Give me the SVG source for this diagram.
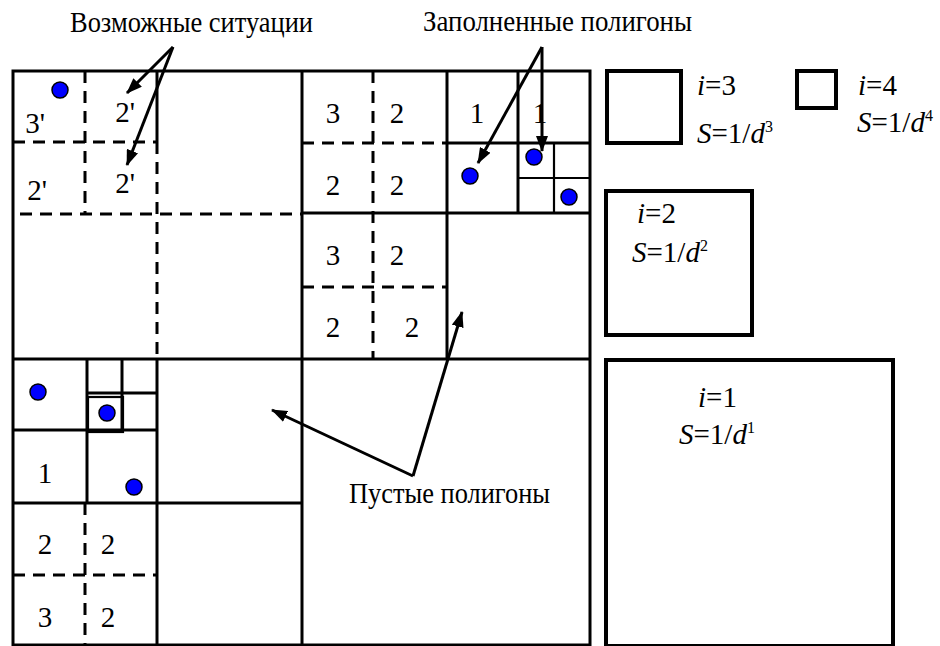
<svg xmlns="http://www.w3.org/2000/svg" width="940" height="646" viewBox="0 0 940 646">
<style>
text{font-family:Liberation Serif,Tinos,Noto Serif,DejaVu Serif,Times New Roman,Times,serif;font-size:29px;fill:#000}
.n{text-anchor:middle}
.t{font-size:30px}
.it{font-style:italic}
.sup{font-size:16px}
.s{stroke:#000;stroke-width:3;fill:none}
.thin{stroke:#000;stroke-width:2.2;fill:none}
.d{stroke:#000;stroke-width:3;fill:none;stroke-dasharray:12 8}
.leg{stroke:#000;stroke-width:4;fill:#fff}
.dot{fill:#0000ff;stroke:#000;stroke-width:1.5}
.arr{stroke:#000;stroke-width:3;fill:none;marker-end:url(#ah)}
</style>
<defs>
<marker id="ah" markerUnits="userSpaceOnUse" markerWidth="18" markerHeight="12" refX="15" refY="6" orient="auto">
<path d="M0,0 L16,6 L0,12 Z" fill="#000"/>
</marker>
</defs>
<rect width="940" height="646" fill="#fff"/>

<g id="grid">
<rect class="s" x="13" y="71" width="577" height="574"/>
<line class="s" x1="302" y1="71" x2="302" y2="645"/>
<line class="s" x1="13" y1="359" x2="590" y2="359"/>
</g>

<g id="quad-top-left">
<line class="d" x1="13" y1="142" x2="157" y2="142"/>
<line class="d" x1="85" y1="71" x2="85" y2="214"/>
<line class="s" x1="157" y1="71" x2="157" y2="142"/>
<line class="d" x1="157" y1="142" x2="157" y2="359"/>
<line class="d" x1="20" y1="214" x2="302" y2="214"/>
<circle class="dot" cx="60" cy="90" r="8"/>
<text class="n" x="35" y="133">3'</text>
<text class="n" x="125" y="122">2'</text>
<text class="n" x="37" y="200">2'</text>
<text class="n" x="125" y="193">2'</text>
</g>

<g id="quad-top-middle">
<line class="s" x1="447" y1="71" x2="447" y2="359"/>
<line class="s" x1="302" y1="213" x2="590" y2="213"/>
<line class="s" x1="447" y1="143" x2="590" y2="143"/>
<line class="s" x1="518" y1="71" x2="518" y2="213"/>
<line class="thin" x1="554" y1="143" x2="554" y2="213"/>
<line class="thin" x1="518" y1="178" x2="590" y2="178"/>
<line class="d" x1="302" y1="143" x2="447" y2="143"/>
<line class="d" x1="373" y1="71" x2="373" y2="359"/>
<line class="d" x1="302" y1="287" x2="447" y2="287"/>
<circle class="dot" cx="470" cy="176" r="8"/>
<circle class="dot" cx="534" cy="157" r="8"/>
<circle class="dot" cx="569" cy="197" r="8"/>
<text class="n" x="333" y="123">3</text>
<text class="n" x="397" y="123">2</text>
<text class="n" x="477" y="123">1</text>
<text class="n" x="540" y="123">1</text>
<text class="n" x="333" y="195">2</text>
<text class="n" x="397" y="195">2</text>
<text class="n" x="333" y="265">3</text>
<text class="n" x="397" y="265">2</text>
<text class="n" x="333" y="337">2</text>
<text class="n" x="412" y="337">2</text>
</g>

<g id="quad-bottom-left">
<line class="s" x1="13" y1="430" x2="157" y2="430"/>
<line class="s" x1="87" y1="359" x2="87" y2="503"/>
<line class="s" x1="122" y1="359" x2="122" y2="432"/>
<line class="s" x1="87" y1="393" x2="157" y2="393"/>
<rect class="thin" x="88" y="397" width="35" height="35"/>
<line class="s" x1="157" y1="359" x2="157" y2="645"/>
<line class="s" x1="13" y1="503" x2="302" y2="503"/>
<line class="d" x1="85" y1="503" x2="85" y2="645"/>
<line class="d" x1="13" y1="575" x2="157" y2="575"/>
<circle class="dot" cx="38" cy="392" r="8"/>
<circle class="dot" cx="107" cy="413" r="8"/>
<circle class="dot" cx="134" cy="487" r="8"/>
<text class="n" x="45" y="483">1</text>
<text class="n" x="45" y="554">2</text>
<text class="n" x="108" y="554">2</text>
<text class="n" x="45" y="627">3</text>
<text class="n" x="108" y="627">2</text>
</g>

<g id="legend-i3">
<rect class="leg" x="607" y="71" width="74" height="72"/>
<text x="697" y="95"><tspan class="it">i</tspan>=3</text>
<text x="697" y="143"><tspan class="it">S</tspan>=1/<tspan class="it">d</tspan><tspan class="sup" dy="-11">3</tspan></text>
</g>
<g id="legend-i4">
<rect class="leg" x="797" y="71" width="39" height="37"/>
<text x="858" y="95"><tspan class="it">i</tspan>=4</text>
<text x="857" y="132"><tspan class="it">S</tspan>=1/<tspan class="it">d</tspan><tspan class="sup" dy="-11">4</tspan></text>
</g>
<g id="legend-i2">
<rect class="leg" x="606" y="191" width="146" height="144"/>
<text x="637" y="223"><tspan class="it">i</tspan>=2</text>
<text x="632" y="262"><tspan class="it">S</tspan>=1/<tspan class="it">d</tspan><tspan class="sup" dy="-11">2</tspan></text>
</g>
<g id="legend-i1">
<rect class="leg" x="606" y="360" width="287" height="286"/>
<text x="698" y="407"><tspan class="it">i</tspan>=1</text>
<text x="679" y="444"><tspan class="it">S</tspan>=1/<tspan class="it">d</tspan><tspan class="sup" dy="-11">1</tspan></text>
</g>

<g id="label-possible">
<text class="t" x="70" y="32" textLength="243" lengthAdjust="spacingAndGlyphs">Возможные ситуации</text>
</g>
<g id="label-filled">
<text class="t" x="423" y="31" textLength="269" lengthAdjust="spacingAndGlyphs">Заполненные полигоны</text>
</g>
<g id="label-empty">
<text class="t" x="349" y="503" textLength="201" lengthAdjust="spacingAndGlyphs">Пустые полигоны</text>
</g>

<g id="connectors">
<line class="arr" x1="173" y1="47" x2="127" y2="93"/>
<line class="arr" x1="173" y1="47" x2="127" y2="165"/>
<line class="arr" x1="542" y1="47" x2="478" y2="163"/>
<line class="arr" x1="542" y1="47" x2="542" y2="151"/>
<line class="arr" x1="413" y1="476" x2="462" y2="312"/>
<line class="arr" x1="413" y1="476" x2="272" y2="410"/>
</g>
</svg>
